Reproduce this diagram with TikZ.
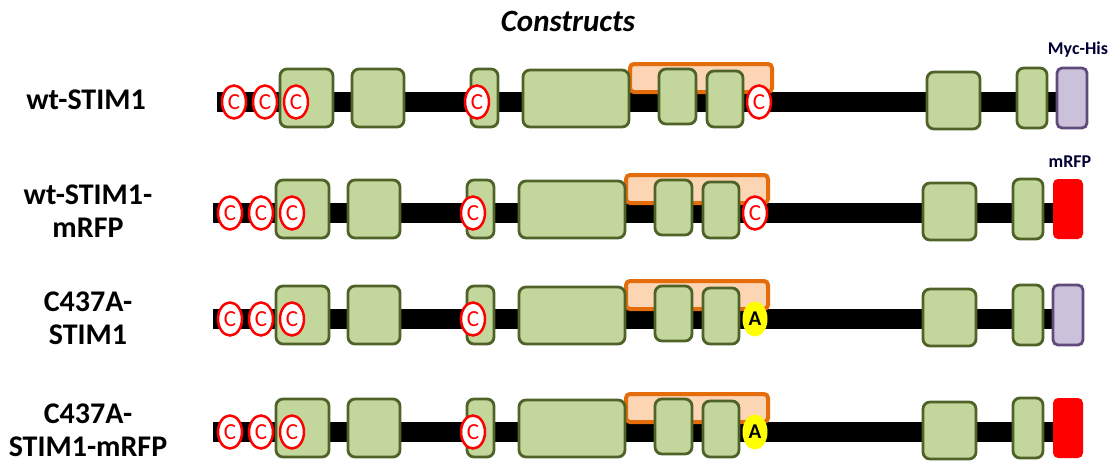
\documentclass[tikz,border=0pt]{standalone}
\usepackage{fontspec}
\setmainfont{Carlito}
\usetikzlibrary{shapes.geometric}
\definecolor{gfill}{HTML}{C3D69B}
\definecolor{gline}{HTML}{4F6228}
\definecolor{ofill}{HTML}{FCD5B5}
\definecolor{oline}{HTML}{E46C0A}
\definecolor{pfill}{HTML}{CCC1DA}
\definecolor{pline}{HTML}{604A7B}
\definecolor{rfp}{HTML}{FF0000}
\definecolor{ylw}{HTML}{FFFF00}
\tikzset{
  gbox/.style={draw=gline, fill=gfill, line width=2.8pt, rounded corners=7pt, inner sep=0pt},
  obox/.style={draw=oline, fill=ofill, line width=4pt, rounded corners=4pt, inner sep=0pt},
  mycbox/.style={draw=pline, fill=pfill, line width=2.8pt, rounded corners=5pt, inner sep=0pt},
  rfpbox/.style={draw=none, fill=rfp, rounded corners=5pt, inner sep=0pt},
  bar/.style={line width=20pt, line cap=butt, black},
  cys/.style={ellipse, draw=rfp, fill=white, line width=2.5pt, minimum width=24pt, minimum height=33pt, inner sep=0pt, text=rfp, font=\fontsize{23}{23}\selectfont},
  ala/.style={ellipse, draw=none, fill=ylw, minimum width=25pt, minimum height=35pt, inner sep=0pt, text=black, font=\bfseries\fontsize{21}{21}\selectfont},
  rowlabel/.style={align=center, font=\bfseries\fontsize{30}{33}\selectfont},
  taglabel/.style={font=\bfseries\fontsize{18}{18}\selectfont, text=black!80!blue},
}
% box helper: style, name, x1, x2, y1, y2 (relative)
\newcommand\bx[6]{\node[#1, minimum width={#4-#3}, minimum height={#6-#5}] (#2) at ({(#3+#4)/2},{(#5+#6)/2}) {};}
% construct: prefix, bar y, dx, bar start, site style, site letter, tag style
\newcommand\construct[7]{%
  \begin{scope}[shift={(#3,#2)}]
    \coordinate (#1-s) at (#4,0);
    \coordinate (#1-e) at (1053,0);
    \draw[bar] (#1-s) -- (#1-e);
    \bx{obox}{#1-o}{626}{768}{-38}{-10}
    \bx{gbox}{#1-b1}{276}{329}{-33}{25}
    \bx{gbox}{#1-b2}{348}{400}{-33}{25}
    \bx{gbox}{#1-b3}{467}{494}{-33}{25}
    \bx{gbox}{#1-b4}{519}{625}{-32}{25}
    \bx{gbox}{#1-b5}{655}{692}{-33}{22}
    \bx{gbox}{#1-b6}{703}{739}{-31}{25}
    \bx{gbox}{#1-b7}{923}{976}{-30}{27}
    \bx{gbox}{#1-b8}{1013}{1043}{-34}{26}
    \bx{#7}{#1-tag}{1053}{1083}{-34}{26}
    \node[cys] (#1-c1) at (230,0) {C};
    \node[cys] (#1-c2) at (261,0) {C};
    \node[cys] (#1-c3) at (292,0) {C};
    \node[cys] (#1-c4) at (473,0) {C};
    \node[#5] (#1-c5) at (755,0) {#6};
  \end{scope}}
\begin{document}
\begin{tikzpicture}[x=1pt, y=-1pt]
  \useasboundingbox (0,0) rectangle (1114,463);
  \node[font=\bfseries\itshape\fontsize{31}{31}\selectfont] (title) at (568,21) {Constructs};
  \construct{r1}{102}{4}{213}{cys}{C}{mycbox}
  \construct{r2}{213}{0}{213}{cys}{C}{rfpbox}
  \construct{r3}{319}{0}{213}{ala}{A}{mycbox}
  \construct{r4}{432}{0}{213}{ala}{A}{rfpbox}
  \node[taglabel] (myc) at (1078,50) {Myc-His};
  \node[taglabel] (rfpl) at (1070,162) {mRFP};
  \node[rowlabel] (l1) at (86,100) {wt-STIM1};
  \node[rowlabel] (l2) at (88,211) {wt-STIM1-\\mRFP};
  \node[rowlabel] (l3) at (88,318) {C437A-\\STIM1};
  \node[rowlabel] (l4) at (88,430) {C437A-\\STIM1-mRFP};
\end{tikzpicture}
\end{document}
